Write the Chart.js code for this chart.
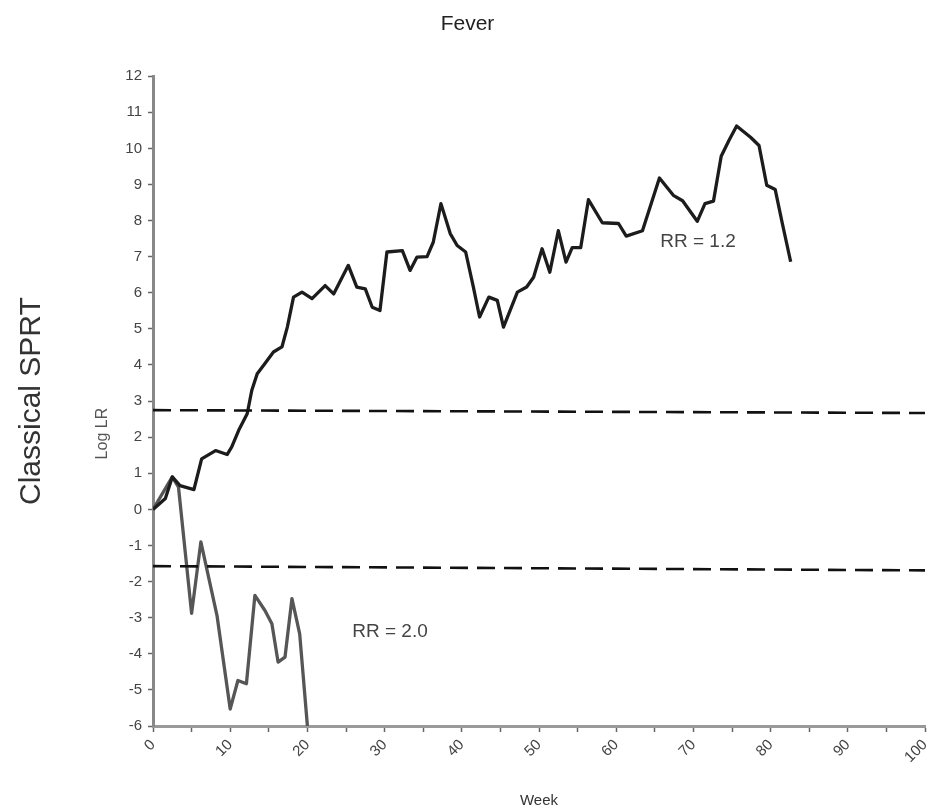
<!DOCTYPE html>
<html>
<head>
<meta charset="utf-8">
<script src="https://cdn.jsdelivr.net/npm/chart.js@4.4.0/dist/chart.umd.min.js"></script>
<style>
  html, body { margin: 0; padding: 0; background: #fff; }
  #wrap { width: 935px; height: 812px; }
</style>
</head>
<body>
<div id="wrap"><canvas id="sprt" width="935" height="812"></canvas></div>
<script>
// RR = 1.2 path (week, log LR)
var rr12Weeks = [0, 1.6, 2.5, 3.5, 5.3, 6.3, 8.1, 9.6, 10.2, 11.1, 12.2, 12.8, 13.5, 14.5, 15.6, 16.7, 17.4, 18.2, 19.3, 20.6,
    22.3, 23.4, 25.3, 26.4, 27.5, 28.4, 29.4, 30.3, 32.3, 33.3, 34.2, 35.5, 36.3, 37.3, 38.5, 39.4, 40.5, 41.5, 42.3, 43.5,
    44.6, 45.4, 47.2, 48.4, 49.3, 50.4, 51.4, 52.5, 53.5, 54.3, 55.4, 56.4, 58.2, 60.3, 61.3, 63.4, 65.6, 67.4, 68.6, 70.5,
    71.5, 72.6, 73.6, 74.6, 75.6, 77.4, 78.5, 79.5, 80.6, 81.5, 82.6];
var rr12LogLR = [0, 0.3, 0.9, 0.66, 0.55, 1.4, 1.63, 1.52, 1.73, 2.19, 2.65, 3.3, 3.76, 4.04, 4.36, 4.5, 5.05, 5.88, 6.02, 5.84,
    6.2, 5.97, 6.76, 6.16, 6.11, 5.6, 5.51, 7.13, 7.17, 6.62, 6.99, 7.0, 7.4, 8.47, 7.64, 7.31, 7.13, 6.16, 5.33, 5.88,
    5.79, 5.05, 6.02, 6.16, 6.43, 7.22, 6.57, 7.72, 6.85, 7.25, 7.25, 8.58, 7.94, 7.92, 7.57, 7.72, 9.18, 8.7, 8.55, 7.98,
    8.47, 8.54, 9.78, 10.22, 10.62, 10.31, 10.08, 8.98, 8.86, 7.94, 6.86];

// RR = 2.0 path
var rr20Weeks = [0, 2.5, 3.3, 5.0, 6.2, 8.3, 10.0, 11.0, 12.1, 13.2, 14.5, 15.4, 16.2, 17.1, 18.0, 19.0, 20.0];
var rr20LogLR = [0, 0.9, 0.62, -2.88, -0.9, -2.95, -5.53, -4.74, -4.83, -2.38, -2.8, -3.17, -4.23, -4.09, -2.47, -3.45, -6.0];

// SPRT boundaries (dashed)
var boundWeeks = [0, 100];
var upperBound = [2.75, 2.67];
var lowerBound = [-1.57, -1.69];

var rrLabels = [
    { text: 'RR = 1.2', week: 70.6, value: 7.42 },
    { text: 'RR = 2.0', week: 30.7, value: -3.4 }
];

function toPoints(xs, ys) {
    var out = [];
    for (var i = 0; i < xs.length; i++) {
        out.push({ x: xs[i], y: ys[i] });
    }
    return out;
}

var FONT = "'Liberation Sans', Arial, sans-serif";

// writes the RR = ... notes and the Log LR label
var notesPlugin = {
    id: 'notes',
    afterDatasetsDraw: function(chart) {
        var ctx = chart.ctx;
        var xs = chart.scales.x, ys = chart.scales.y;
        ctx.save();
        ctx.font = '19px ' + FONT;
        ctx.fillStyle = '#444';
        ctx.textAlign = 'center';
        ctx.textBaseline = 'middle';
        rrLabels.forEach(function(l) {
            ctx.fillText(l.text, xs.getPixelForValue(l.week), ys.getPixelForValue(l.value));
        });
        // y axis name, a bit below the middle like the original
        ctx.translate(103, ys.getPixelForValue(2.1));
        ctx.rotate(-Math.PI / 2);
        ctx.font = '16px ' + FONT;
        ctx.fillStyle = '#555';
        ctx.fillText('Log LR', 0, 0);
        ctx.restore();
    }
};

new Chart(document.getElementById('sprt'), {
    type: 'line',
    data: {
        datasets: [{
            label: 'RR = 1.2',
            data: toPoints(rr12Weeks, rr12LogLR),
            borderColor: '#1c1c1c',
            borderWidth: 3.3,
            order: 1
        }, {
            label: 'RR = 2.0',
            data: toPoints(rr20Weeks, rr20LogLR),
            borderColor: '#565656',
            borderWidth: 3.3,
            order: 2
        }, {
            label: 'upper',
            data: toPoints(boundWeeks, upperBound),
            borderColor: '#111',
            borderWidth: 2.6,
            borderDash: [18, 9]
        }, {
            label: 'lower',
            data: toPoints(boundWeeks, lowerBound),
            borderColor: '#111',
            borderWidth: 2.6,
            borderDash: [18, 9]
        }]
    },
    options: {
        responsive: false,
        animation: false,
        layout: { padding: 0 },
        elements: {
            point: { radius: 0 },
            line: { tension: 0, borderJoinStyle: 'round', borderCapStyle: 'butt' }
        },
        plugins: {
            legend: { display: false },
            tooltip: { enabled: false },
            title: {
                display: true,
                text: 'Fever',
                color: '#222',
                font: { family: FONT, size: 21, weight: 'normal' },
                padding: { top: 12, bottom: 39 }
            }
        },
        scales: {
            x: {
                type: 'linear',
                min: 0,
                max: 100,
                border: { color: '#999', width: 3 },
                grid: { drawOnChartArea: false, tickLength: 6, color: '#666', tickWidth: 1.5 },
                ticks: {
                    stepSize: 5,
                    autoSkip: false,
                    minRotation: 45,
                    maxRotation: 45,
                    padding: 4,
                    color: '#444',
                    font: { family: FONT, size: 15 },
                    callback: function(v) { return v % 10 === 0 ? String(v) : ''; }
                },
                title: {
                    display: true,
                    text: 'Week',
                    color: '#333',
                    font: { family: FONT, size: 15 },
                    padding: { top: 0, bottom: 2 }
                },
                afterFit: function(scale) {
                    scale.height = 86;
                    scale.paddingRight = 10;
                }
            },
            y: {
                type: 'linear',
                min: -6,
                max: 12,
                border: { color: '#888', width: 3 },
                grid: { drawOnChartArea: false, tickLength: 5, color: '#666', tickWidth: 1.5 },
                ticks: {
                    stepSize: 1,
                    padding: 6,
                    color: '#444',
                    font: { family: FONT, size: 15 }
                },
                afterFit: function(scale) { scale.width = 93; }
            },
            side: {
                type: 'linear',
                position: 'left',
                weight: 1,
                min: -6,
                max: 12,
                border: { display: false },
                grid: { display: false },
                ticks: { display: false },
                title: {
                    display: true,
                    text: 'Classical SPRT',
                    color: '#333',
                    font: { family: FONT, size: 30 },
                    padding: { top: 14, bottom: 0 }
                },
                afterFit: function(scale) { scale.width = 60; }
            }
        }
    },
    plugins: [notesPlugin]
});
</script>
</body>
</html>
